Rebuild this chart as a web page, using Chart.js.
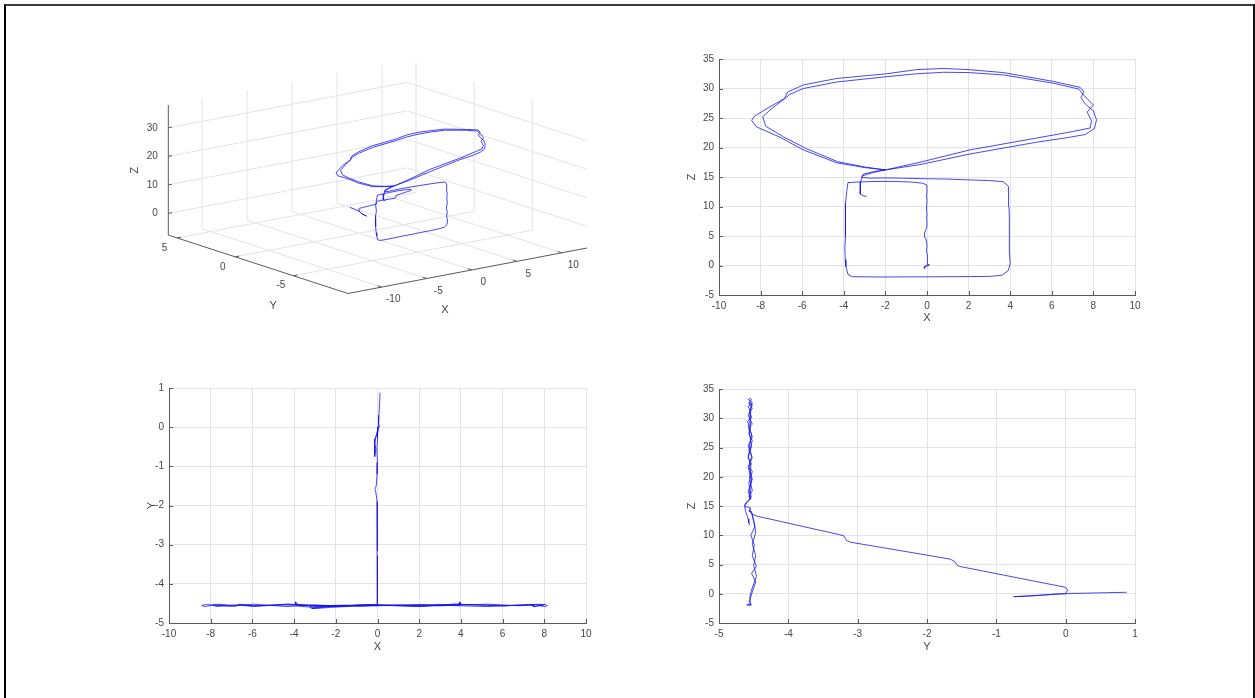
<!DOCTYPE html>
<html>
<head>
<meta charset="utf-8">
<script src="https://cdn.jsdelivr.net/npm/chart.js@4.4.1/dist/chart.umd.min.js"></script>
<style>
  html, body { margin: 0; padding: 0; background: #fff; width: 1255px; height: 698px; overflow: hidden; }
  #frame { position: absolute; left: 4px; top: 4px; width: 1247px; height: 720px;
           border-left: 2px solid #000; border-top: 2px solid #3a3a3a; border-right: 2px solid #111; }
  canvas { position: absolute; }
</style>
</head>
<body>
<div id="frame"></div>
<canvas id="view3d"></canvas>
<canvas id="planeXZ"></canvas>
<canvas id="planeXY"></canvas>
<canvas id="planeYZ"></canvas>
<script>
// Recorded path (metres): start near the origin, climb to the wall plane,
// two rectangles, two large loops, short final hook.
const trajX = [
  0.12, 0.10, 0.07, 0.05, 0.10, 0.02, -0.12, -0.15, -0.12, -0.08, -0.15, -0.05, 0.03, 0.04, 0.02,
  0.00, -0.03, 0.00, -0.02, -0.06, -0.10, -0.12, -0.08, -0.02, 0.00, -0.02, 0.00, -0.02, -0.03, -0.01, 0.00, -0.02, 0.00, -0.01,
  0.00, -0.20, -0.80, -1.60, -2.50, -3.30, -3.80,
  -3.86, -3.92, -3.90, -3.94, -3.92, -3.95, -3.93, -3.90, -3.80, -3.60,
  -3.00, -2.00, -1.00, 0.00, 1.00, 2.00, 3.00, 3.60, 3.90, 4.00,
  3.97, 3.96, 3.95, 3.97, 3.96, 3.94, 3.93, 3.91, 3.67,
  3.00, 2.07, 1.00, 0.00, -1.14, -2.20, -2.74, -3.14, -3.06, -2.58, -2.00,
  -0.34, 2.07, 5.27, 6.80, 7.60, 8.05, 8.15, 8.00, 7.60, 7.40, 7.55, 7.36, 6.07, 3.67, 2.00, 0.80,
  -0.50, -1.94, -4.34, -5.95, -6.70, -6.85, -7.60, -8.30, -8.43, -8.20, -7.10, -5.95, -4.34, -3.00, -2.00,
  -0.34, 2.07, 5.27, 7.00, 7.84, 7.91, 7.70, 8.00, 7.55, 7.30, 6.07, 3.67, 2.00, 0.80,
  -0.50, -1.94, -4.34, -5.95, -6.60, -6.80, -7.50, -7.90, -7.75, -6.90, -5.80, -4.30, -3.00, -2.00,
  -2.60, -3.10, -3.19, -3.22, -3.20, -3.06, -2.90
];
const trajY = [
  0.88, 0.60, 0.30, 0.05, 0.05, -0.10, -0.30, -0.50, -0.75, -0.55, -0.40, -0.20, 0.00, 0.03, 0.00,
  -0.30, -0.60, -0.90, -1.20, -1.50, -1.56, -1.60, -1.66, -1.90, -2.30, -2.70, -3.10, -3.16, -3.20, -3.28, -3.60, -3.90, -4.20, -4.45,
  -4.52, -4.55, -4.57, -4.55, -4.56, -4.55, -4.53,
  -4.50, -4.47, -4.52, -4.47, -4.50, -4.46, -4.52, -4.55, -4.56, -4.58,
  -4.60, -4.57, -4.55, -4.56, -4.54, -4.55, -4.53, -4.54, -4.55, -4.52,
  -4.47, -4.53, -4.46, -4.52, -4.49, -4.54, -4.48, -4.52, -4.55,
  -4.56, -4.54, -4.56, -4.55, -4.57, -4.60, -4.62, -4.63, -4.60, -4.57, -4.55,
  -4.54, -4.57, -4.52, -4.56, -4.53, -4.58, -4.55, -4.52, -4.57, -4.54, -4.59, -4.53, -4.56, -4.52, -4.58, -4.55,
  -4.53, -4.57, -4.52, -4.58, -4.54, -4.56, -4.52, -4.58, -4.55, -4.53, -4.57, -4.52, -4.58, -4.54, -4.56,
  -4.56, -4.53, -4.58, -4.54, -4.52, -4.57, -4.55, -4.53, -4.58, -4.54, -4.56, -4.52, -4.57, -4.55,
  -4.53, -4.58, -4.54, -4.56, -4.52, -4.57, -4.55, -4.53, -4.58, -4.54, -4.56, -4.52, -4.57, -4.55,
  -4.60, -4.63, -4.62, -4.58, -4.57, -4.56, -4.55
];
const trajZ = [
  0.25, 0.18, 0.10, 0.05, 0.02, -0.05, -0.20, -0.35, -0.50, -0.40, -0.30, -0.10, 0.05, 0.60, 1.10,
  1.80, 2.50, 3.20, 3.90, 4.60, 4.80, 5.50, 5.90, 6.40, 7.20, 8.00, 8.80, 9.10, 9.90, 10.15, 11.00, 11.80, 12.60, 13.25,
  13.60, 13.95, 14.15, 14.25, 14.25, 14.15, 14.05,
  12.50, 10.50, 8.50, 6.50, 4.90, 3.00, 1.00, -0.20, -1.50, -1.90,
  -1.92, -1.95, -1.93, -1.92, -1.90, -1.88, -1.85, -1.65, -0.90, 0.30,
  2.00, 3.50, 4.70, 6.50, 8.30, 10.00, 11.50, 13.40, 14.20,
  14.40, 14.50, 14.65, 14.70, 14.80, 14.85, 14.80, 14.95, 15.50, 15.90, 16.20,
  17.10, 18.90, 20.90, 21.70, 22.20, 23.20, 24.70, 26.20, 27.40, 28.50, 29.40, 30.20, 31.20, 32.70, 33.20, 33.40,
  33.20, 32.50, 31.70, 30.60, 29.40, 28.30, 26.80, 25.30, 24.60, 23.50, 21.80, 19.60, 17.40, 16.60, 16.20,
  17.50, 19.60, 21.60, 22.70, 23.30, 24.50, 26.00, 27.20, 28.80, 29.90, 30.90, 32.30, 32.70, 32.75,
  32.50, 32.00, 31.10, 30.00, 29.00, 28.40, 26.50, 25.20, 23.60, 21.80, 19.80, 17.60, 16.70, 16.20,
  15.75, 15.20, 14.20, 12.80, 12.10, 11.80, 11.70
];

// Tick values of the 3-D box
const xTicks3d = [-10, -5, 0, 5, 10];
const yTicks3d = [-5, 0, 5];
const zTicks3d = [0, 10, 20, 30];

const FONT = "'Liberation Sans', Arial, Helvetica, sans-serif";
const LINE = 'rgba(20, 20, 235, 0.78)';
const GRID = '#e3e3e3';
const AXIS = '#5a5a5a';
const TEXT = '#474747';

// 3-D view: axis limits and the screen directions of one unit along x, y, z
const VIEW = {
  xlim: [-13.75, 12.8], ylim: [-9.7, 5.75], zlim: [-7.6, 38],
  corner: [348, 293.5],            // page position of (xmin, ymin, zmin)
  ex: [9.0, -1.713], ey: [-11.63, -3.78], ez: [0, -2.853]
};
const BOX3D = { left: 100, top: 40, width: 520, height: 290 };

function project(x, y, z) {
  const dx = x - VIEW.xlim[0], dy = y - VIEW.ylim[0], dz = z - VIEW.zlim[0];
  return {
    x: VIEW.corner[0] + dx * VIEW.ex[0] + dy * VIEW.ey[0] + dz * VIEW.ez[0] - BOX3D.left,
    y: VIEW.corner[1] + dx * VIEW.ex[1] + dy * VIEW.ey[1] + dz * VIEW.ez[1] - BOX3D.top
  };
}

function place(cv, left, top, w, h) {
  cv.width = w; cv.height = h;
  cv.style.left = left + 'px'; cv.style.top = top + 'px';
  cv.style.width = w + 'px'; cv.style.height = h + 'px';
}

// Box, grid, axes and labels of the 3-D view
const box3d = {
  id: 'box3d',
  beforeDatasetsDraw(chart) {
    const { ctx, scales: { x: sx, y: sy } } = chart;
    const [x0, x1] = VIEW.xlim, [y0, y1] = VIEW.ylim, [z0, z1] = VIEW.zlim;
    const P = (a, b, c) => { const q = project(a, b, c); return [sx.getPixelForValue(q.x), sy.getPixelForValue(q.y)]; };
    const seg = (p, q) => { ctx.moveTo(p[0], p[1]); ctx.lineTo(q[0], q[1]); };
    ctx.save();
    ctx.lineWidth = 1;
    ctx.strokeStyle = GRID;
    ctx.beginPath();
    xTicks3d.forEach(v => { seg(P(v, y0, z0), P(v, y1, z0)); seg(P(v, y1, z0), P(v, y1, z1)); });
    yTicks3d.forEach(v => { seg(P(x0, v, z0), P(x1, v, z0)); seg(P(x1, v, z0), P(x1, v, z1)); });
    zTicks3d.forEach(v => { seg(P(x0, y1, v), P(x1, y1, v)); seg(P(x1, y0, v), P(x1, y1, v)); });
    ctx.stroke();

    ctx.strokeStyle = AXIS;
    ctx.beginPath();
    seg(P(x0, y0, z0), P(x1, y0, z0));
    seg(P(x0, y0, z0), P(x0, y1, z0));
    seg(P(x0, y1, z0), P(x0, y1, z1));
    xTicks3d.forEach(v => seg(P(v, y0, z0), P(v, y0 + 0.35, z0)));
    yTicks3d.forEach(v => seg(P(x0, v, z0), P(x0 + 0.45, v, z0)));
    zTicks3d.forEach(v => seg(P(x0, y1, v), P(x0 + 0.4, y1, v)));
    ctx.stroke();

    ctx.fillStyle = TEXT;
    ctx.font = '10px ' + FONT;
    ctx.textBaseline = 'middle';
    ctx.textAlign = 'center';
    xTicks3d.forEach(v => { const p = P(v, y0, z0); ctx.fillText(String(v), p[0] + 11.5, p[1] + 12.5); });
    yTicks3d.forEach(v => { const p = P(x0, v, z0); ctx.fillText(String(v), p[0] - 12.5, p[1] + 10); });
    ctx.textAlign = 'right';
    zTicks3d.forEach(v => { const p = P(x0, y1, v); ctx.fillText(String(v), p[0] - 10.5, p[1]); });

    ctx.font = '11px ' + FONT;
    ctx.textAlign = 'center';
    const mx = P((x0 + x1) / 2, y0, z0), my = P(x0, (y0 + y1) / 2, z0), mz = P(x0, y1, (z0 + z1) / 2);
    ctx.fillText('X', mx[0] - 22.5, mx[1] + 39);
    ctx.fillText('Y', my[0] + 15, my[1] + 42);
    ctx.save();
    ctx.translate(mz[0] - 33, mz[1]);
    ctx.rotate(-Math.PI / 2);
    ctx.fillText('Z', 0, 0);
    ctx.restore();
    ctx.restore();
  }
};

// Short inward tick marks on the left and bottom axes
const innerTicks = {
  id: 'innerTicks',
  afterDraw(chart) {
    const { ctx, chartArea: a, scales: { x, y } } = chart;
    ctx.save();
    ctx.strokeStyle = AXIS;
    ctx.lineWidth = 1;
    ctx.beginPath();
    x.ticks.forEach(t => { const px = Math.round(x.getPixelForValue(t.value)) + 0.5; ctx.moveTo(px, a.bottom); ctx.lineTo(px, a.bottom - 4); });
    y.ticks.forEach(t => { const py = Math.round(y.getPixelForValue(t.value)) + 0.5; ctx.moveTo(a.left, py); ctx.lineTo(a.left + 4, py); });
    ctx.stroke();
    ctx.restore();
  }
};

const common = {
  responsive: false, animation: false, events: [],
  plugins: { legend: { display: false }, tooltip: { enabled: false } }
};

// 3-D view
(function () {
  const cv = document.getElementById('view3d');
  place(cv, BOX3D.left, BOX3D.top, BOX3D.width, BOX3D.height);
  new Chart(cv, {
    type: 'scatter',
    data: { datasets: [{
      data: trajX.map((v, i) => project(v, trajY[i], trajZ[i])),
      showLine: true, borderColor: LINE, borderWidth: 1, pointRadius: 0, pointHoverRadius: 0, tension: 0, fill: false
    }] },
    options: Object.assign({}, common, {
      layout: { padding: 0 },
      scales: {
        x: { type: 'linear', min: 0, max: BOX3D.width, display: false },
        y: { type: 'linear', min: 0, max: BOX3D.height, reverse: true, display: false }
      }
    }),
    plugins: [box3d]
  });
})();

// Planar projections
function planeChart(id, xs, ys, o) {
  const padL = 60, padT = 15, padR = 25, axisH = 40;
  const left = o.L - padL, top = o.T - padT;
  const w = o.R + padR - left, h = o.B + axisH - top;
  const cv = document.getElementById(id);
  place(cv, left, top, w, h);
  const tickFont = { family: FONT, size: 10 };
  const titleFont = { family: FONT, size: 11 };
  new Chart(cv, {
    type: 'scatter',
    data: { datasets: [{
      data: xs.map((v, i) => ({ x: v, y: ys[i] })),
      showLine: true, borderColor: LINE, borderWidth: 1, pointRadius: 0, pointHoverRadius: 0, tension: 0, fill: false
    }] },
    options: Object.assign({}, common, {
      layout: { padding: { left: 0, top: padT, right: padR, bottom: 0 } },
      scales: {
        x: {
          type: 'linear', position: 'bottom', min: o.xmin, max: o.xmax,
          ticks: { stepSize: o.xstep, autoSkip: false, maxRotation: 0, padding: 5, color: TEXT, font: tickFont },
          grid: { color: GRID, drawTicks: false },
          border: { display: true, color: AXIS, width: 1 },
          title: { display: true, text: o.xTitle, color: TEXT, font: titleFont,
                   padding: { top: 0, bottom: (top + h) - o.xTitleY - 6.6 } },
          afterFit(s) { s.height = axisH; }
        },
        y: {
          type: 'linear', position: 'left', min: o.ymin, max: o.ymax,
          ticks: { stepSize: o.ystep, autoSkip: false, padding: 5, color: TEXT, font: tickFont },
          grid: { color: GRID, drawTicks: false },
          border: { display: true, color: AXIS, width: 1 },
          title: { display: true, text: o.yTitle, color: TEXT, font: titleFont,
                   padding: { top: o.yTitleX - left - 6.6, bottom: 0 } },
          afterFit(s) { s.width = padL; }
        }
      }
    }),
    plugins: [innerTicks]
  });
}

planeChart('planeXZ', trajX, trajZ, {
  L: 719, T: 59, R: 1135, B: 295, yTitleX: 692, xTitleY: 318,
  xmin: -10, xmax: 10, xstep: 2, ymin: -5, ymax: 35, ystep: 5, xTitle: 'X', yTitle: 'Z'
});
planeChart('planeXY', trajX, trajY, {
  L: 169, T: 388, R: 586, B: 623, yTitleX: 152, xTitleY: 647,
  xmin: -10, xmax: 10, xstep: 2, ymin: -5, ymax: 1, ystep: 1, xTitle: 'X', yTitle: 'Y'
});
planeChart('planeYZ', trajY, trajZ, {
  L: 719, T: 389, R: 1135, B: 623, yTitleX: 692, xTitleY: 647,
  xmin: -5, xmax: 1, xstep: 1, ymin: -5, ymax: 35, ystep: 5, xTitle: 'Y', yTitle: 'Z'
});
</script>
</body>
</html>
